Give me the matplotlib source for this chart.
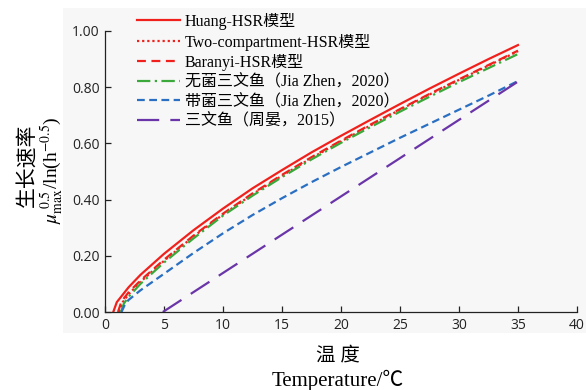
import matplotlib
matplotlib.use("Agg")
import matplotlib.pyplot as plt
from matplotlib.patches import Rectangle

# ---- data ----
T_huang = [0.7, 1, 2, 3, 5, 7.5, 10, 12.5, 15, 17.5, 20, 22.5, 25, 27.5, 30, 32.5, 35]
huang = [0, 0.035, 0.088, 0.132, 0.207, 0.291, 0.368, 0.44, 0.505, 0.568, 0.627, 0.684, 0.74, 0.795, 0.848, 0.9, 0.95]

T_two = [1.2, 1.5, 2, 3, 5, 7.5, 10, 12.5, 15, 17.5, 20, 22.5, 25, 27.5, 30, 32.5, 35]
two_comp = [0, 0.035, 0.063, 0.107, 0.182, 0.269, 0.347, 0.419, 0.485, 0.548, 0.607, 0.664, 0.72, 0.774, 0.826, 0.877, 0.928]

T_bar = [1.1, 1.4, 2, 3, 5, 7.5, 10, 12.5, 15, 17.5, 20, 22.5, 25, 27.5, 30, 32.5, 35]
baranyi = [0, 0.038, 0.07, 0.112, 0.186, 0.272, 0.35, 0.422, 0.488, 0.551, 0.61, 0.667, 0.722, 0.776, 0.828, 0.879, 0.93]

T_green = [1.35, 1.6, 2, 3, 5, 7.5, 10, 12.5, 15, 17.5, 20, 22.5, 25, 27.5, 30, 32.5, 35]
sterile = [0, 0.03, 0.054, 0.1, 0.176, 0.262, 0.343, 0.414, 0.48, 0.543, 0.602, 0.658, 0.713, 0.766, 0.818, 0.868, 0.918]

T_blue = [1.4, 1.7, 2, 3, 5, 7.5, 10, 12.5, 15, 17.5, 20, 22.5, 25, 27.5, 30, 32.5, 35]
bacteria = [0, 0.028, 0.043, 0.077, 0.136, 0.21, 0.28, 0.345, 0.405, 0.462, 0.516, 0.568, 0.62, 0.67, 0.72, 0.77, 0.822]

T_zhou = [4.9, 35]
zhou = [0, 0.82]

labels = ["Huang-HSR模型", "Two-compartment-HSR模型", "Baranyi-HSR模型",
          "无菌三文鱼（Jia Zhen，2020）", "带菌三文鱼（Jia Zhen，2020）", "三文鱼（周晏，2015）"]
x_ticks = [0, 5, 10, 15, 20, 25, 30, 35, 40]
y_ticks = [0.0, 0.2, 0.4, 0.6, 0.8, 1.0]

serif = ["Liberation Serif", "Noto Sans CJK SC", "DejaVu Sans"]
plt.rcParams["mathtext.fontset"] = "stix"

fig = plt.figure(figsize=(5.86, 3.9), dpi=100)
fig.patches.append(Rectangle((63 / 586, 1 - 333 / 390), 1 - 63 / 586, (333 - 8) / 390,
                             transform=fig.transFigure, facecolor="#f7f7f7",
                             edgecolor="none", zorder=-10))
ax = fig.add_axes([105 / 586, 1 - 312 / 390, (577 - 105) / 586, (312 - 31) / 390])
ax.set_facecolor("none")

red = "#f0211c"
ax.plot(T_huang, huang, color=red, lw=1.6, label=labels[0])
ax.plot(T_two, two_comp, color=red, lw=1.6, linestyle=(0, (1, 1.3)), label=labels[1])
ax.plot(T_bar, baranyi, color=red, lw=1.6, linestyle=(0, (4, 2.5)), label=labels[2])
ax.plot(T_green, sterile, color="#3aa83a", lw=1.6, linestyle=(0, (6, 2, 1, 2)), label=labels[3])
ax.plot(T_blue, bacteria, color="#2a6fc2", lw=1.6, linestyle=(0, (3.5, 2)), label=labels[4])
ax.plot(T_zhou, zhou, color="#6a35a8", lw=1.6, linestyle=(0, (10, 5)), label=labels[5])

ax.set_xlim(0, 40)
ax.set_ylim(0, 1.0)
ax.set_xticks(x_ticks)
ax.set_yticks(y_ticks)
ax.set_yticklabels([f"{v:.2f}" for v in y_ticks])
for s in ["top", "right"]:
    ax.spines[s].set_visible(False)
for s in ["left", "bottom"]:
    ax.spines[s].set_linewidth(0.9)
    ax.spines[s].set_color("#222222")
ax.tick_params(direction="in", length=4, width=0.9, labelsize=10, colors="#222222", pad=4)
for lab in ax.get_xticklabels() + ax.get_yticklabels():
    lab.set_fontfamily("Open Sans")

leg = fig.legend(loc="upper left", bbox_to_anchor=(137 / 586, 1 - 13 / 390),
                 bbox_transform=fig.transFigure, frameon=False,
                 prop={"family": serif, "size": 11.5}, handlelength=2.7,
                 handletextpad=0.3, labelspacing=0.22, borderaxespad=0, borderpad=0)

fig.text(28 / 586, 1 - 165 / 390, "生长速率", rotation=90, ha="center", va="center",
         fontsize=15, family=serif)
fig.text(52 / 586, 1 - 170 / 390, r"$\mu_{\rm max}^{\ 0.5}$/ln(h$^{-0.5}$)", rotation=90,
         ha="center", va="center", fontsize=14, family=serif)
fig.text(338 / 586, 1 - 355 / 390, "温 度", ha="center", va="center", fontsize=14, family=serif)
fig.text(338 / 586, 1 - 380 / 390, "Temperature/℃", ha="center", va="center",
         fontsize=15, family=serif)

fig.savefig("out.png", dpi=100)
